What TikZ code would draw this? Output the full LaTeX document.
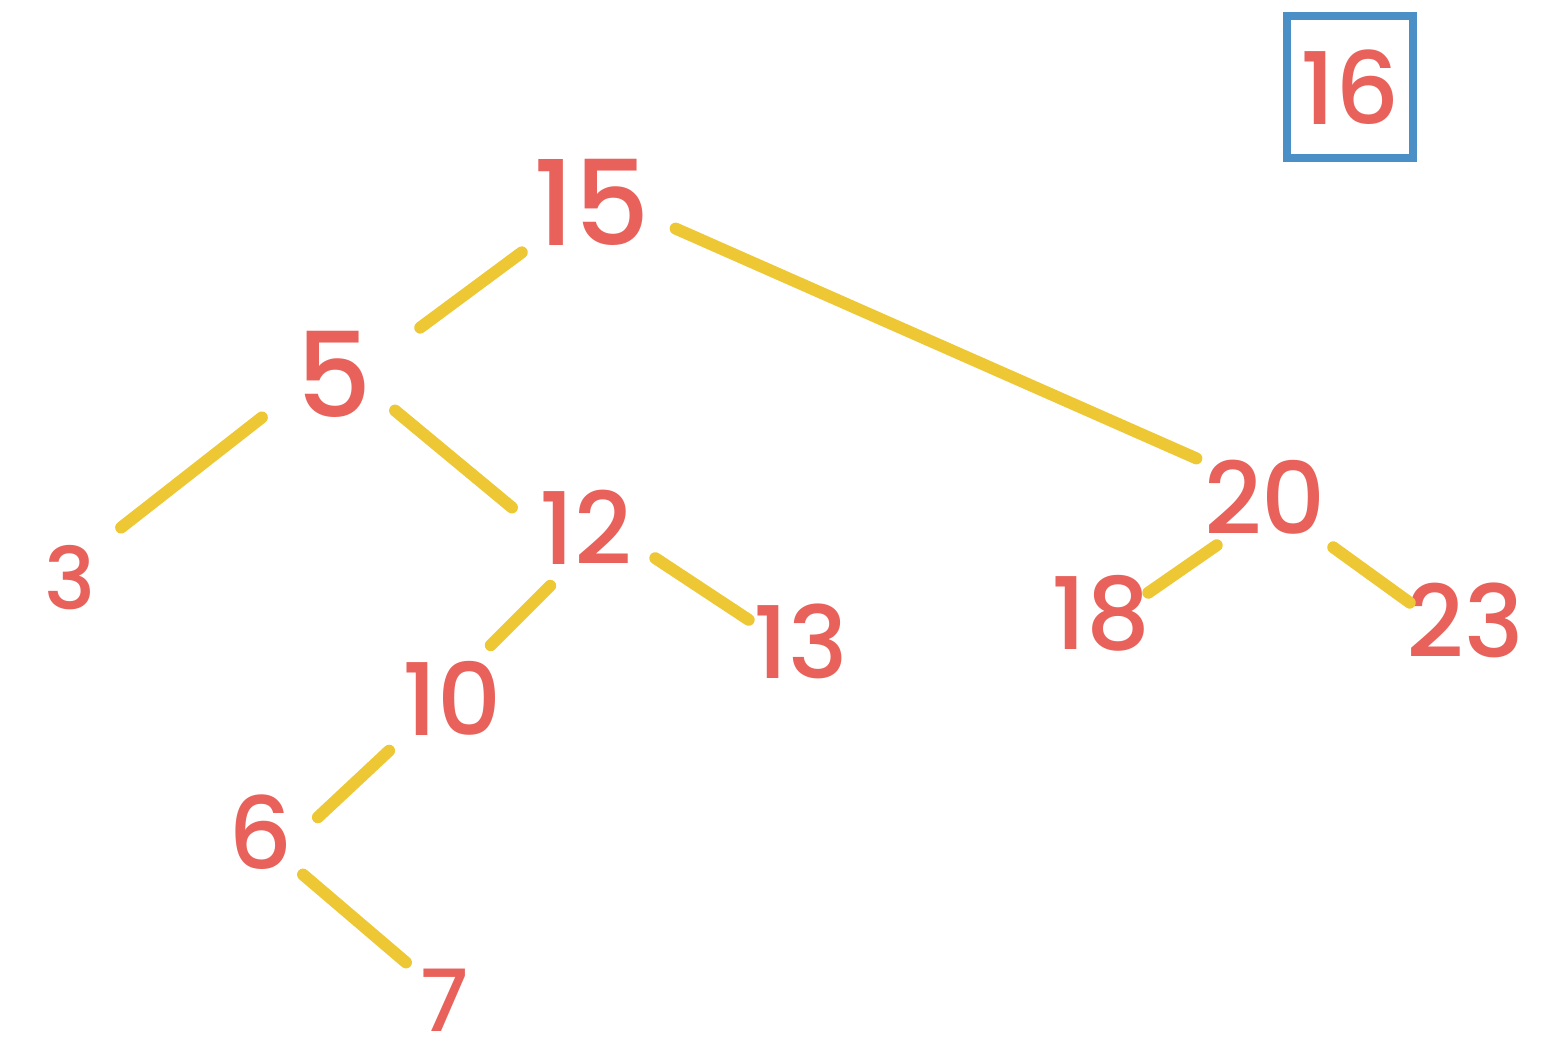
\documentclass[tikz,border=0pt]{standalone}
\usepackage{fontspec}
\setmainfont{Poppins}[UprightFont={* Medium}]
\definecolor{numred}{HTML}{E8615A}
\definecolor{edgeyel}{HTML}{EDC834}
\definecolor{boxblue}{HTML}{4A90C6}
\begin{document}
\begin{tikzpicture}[x=1pt,y=-1pt,
  num/.style={text=numred,inner sep=0pt,font=\fontsize{100}{100}\selectfont},
  big/.style={font=\fontsize{118}{118}\selectfont},
  small/.style={font=\fontsize{86}{86}\selectfont},
  link/.style={draw=edgeyel,line width=12pt,line cap=round,shorten <=4pt,shorten >=4pt},
  boxed/.style={draw=boxblue,line width=8pt,minimum width=126pt,minimum height=142pt}]
\fill[white] (0,0) rectangle (1558,1059);
\useasboundingbox (0,0) rectangle (1558,1059);
\node[num,boxed] (n16) at (1350,87) {16};
\node[num,big] (n15) at (592,202) {15};
\node[num,big] (n5) at (334,374) {5};
\node[num,small] (n3) at (70,578) {3};
\node[num] (n12) at (586,527) {12};
\node[num] (n13) at (801,641) {13};
\node[num] (n10) at (452,698) {10};
\node[num] (n6) at (261,832) {6};
\node[num,small] (n7) at (445,1000) {7};
\node[num] (n20) at (1265,497) {20};
\node[num] (n18) at (1101,613) {18};
\node[num] (n23) at (1465,620) {23};
\draw[link] ([shift={(-67,48)}]n15.center) -- ([shift={(83,-44)}]n5.center);
\draw[link] ([shift={(80,25)}]n15.center) -- ([shift={(-65,-37)}]n20.center);
\draw[link] ([shift={(-69,41)}]n5.center) -- ([shift={(48,-48)}]n3.center);
\draw[link] ([shift={(58,34)}]n5.center) -- ([shift={(-71,-17)}]n12.center);
\draw[link] ([shift={(-33,56)}]n12.center) -- ([shift={(36,-50)}]n10.center);
\draw[link] ([shift={(66,29)}]n12.center) -- ([shift={(-49,-19)}]n13.center);
\draw[link] ([shift={(-60,50)}]n10.center) -- ([shift={(54,-12)}]n6.center);
\draw[link] ([shift={(39,40)}]n6.center) -- ([shift={(-36,-35)}]n7.center);
\draw[link] ([shift={(-45,46)}]n20.center) -- ([shift={(44,-18)}]n18.center);
\draw[link] ([shift={(65,48)}]n20.center) -- ([shift={(-52,-15)}]n23.center);
\end{tikzpicture}
\end{document}
